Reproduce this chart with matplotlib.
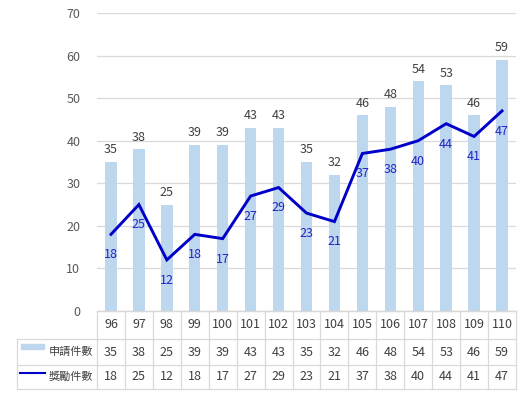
import matplotlib
matplotlib.use("Agg")
import matplotlib.pyplot as plt
import matplotlib.transforms as mtransforms
from matplotlib.lines import Line2D
from matplotlib.patches import Rectangle

plt.rcParams['font.family'] = ['Noto Sans CJK TC', 'DejaVu Sans']

years = ['96', '97', '98', '99', '100', '101', '102', '103', '104', '105', '106', '107', '108', '109', '110']
applications = [35, 38, 25, 39, 39, 43, 43, 35, 32, 46, 48, 54, 53, 46, 59]
awards = [18, 25, 12, 18, 17, 27, 29, 23, 21, 37, 38, 40, 44, 41, 47]
series_names = ['申請件數', '獎勵件數']

bar_color = '#BDD7EE'
line_color = '#0000C8'
label_blue = '#2424C8'
text_gray = '#404040'
tick_gray = '#595959'
grid_gray = '#D9D9D9'

W, H = 529, 394
fig = plt.figure(figsize=(W / 100, H / 100), dpi=100)
ax = fig.add_axes([97 / W, 1 - 311 / H, (516 - 97) / W, (311 - 13) / H])

x = list(range(len(years)))
ax.bar(x, applications, width=0.41, color=bar_color, zorder=2)
ax.plot(x, awards, color=line_color, lw=2.1, zorder=3, solid_joinstyle='miter')

for xi, v in zip(x, applications):
    ax.annotate(str(v), (xi, v), xytext=(0, 4), textcoords='offset points',
                ha='center', va='bottom', fontsize=9, color=text_gray)
for xi, v in zip(x, awards):
    ax.annotate(str(v), (xi, v), xytext=(0, -10), textcoords='offset points',
                ha='center', va='top', fontsize=9, color=label_blue)

ax.set_xlim(-0.5, len(years) - 0.5)
ax.set_ylim(0, 70)
ax.set_yticks(range(0, 71, 10))
ax.yaxis.grid(True, color=grid_gray, lw=0.9, zorder=0)
ax.set_axisbelow(True)
ax.tick_params(axis='y', length=0, pad=12, labelsize=9, labelcolor=tick_gray)
ax.tick_params(axis='x', length=0, labelbottom=False)
for s in ['top', 'right', 'left']:
    ax.spines[s].set_visible(False)
ax.spines['bottom'].set_color(grid_gray)
ax.spines['bottom'].set_linewidth(0.9)

def fy(py):
    return 1 - py / H

trans = mtransforms.blended_transform_factory(ax.transData, fig.transFigure)
row_lines = [311, 339, 365, 389]
left_px = 17 / W
ax_left = 97 / W
ax_right = 516 / W

fig.add_artist(Line2D([ax_left, ax_right], [fy(311), fy(311)], transform=fig.transFigure, color=grid_gray, lw=0.9))
for py in row_lines[1:]:
    fig.add_artist(Line2D([left_px, ax_right], [fy(py), fy(py)], transform=fig.transFigure, color=grid_gray, lw=0.9))
for b in range(len(years) + 1):
    bx = b - 0.5
    fig.add_artist(Line2D([bx, bx], [fy(311), fy(389)], transform=trans, color=grid_gray, lw=0.9))
fig.add_artist(Line2D([left_px, left_px], [fy(339), fy(389)], transform=fig.transFigure, color=grid_gray, lw=0.9))

row_centers = [(311 + 339) / 2, (339 + 365) / 2, (365 + 389) / 2]
for xi, yr, a, w in zip(x, years, applications, awards):
    fig.text(xi, fy(row_centers[0]), yr, transform=trans, ha='center', va='center', fontsize=9, color=text_gray)
    fig.text(xi, fy(row_centers[1]), str(a), transform=trans, ha='center', va='center', fontsize=9, color=text_gray)
    fig.text(xi, fy(row_centers[2]), str(w), transform=trans, ha='center', va='center', fontsize=9, color=text_gray)

fig.add_artist(Rectangle((21 / W, fy(349)), 23 / W, 5 / H, transform=fig.transFigure, color=bar_color))
fig.text(93 / W, fy(row_centers[1]), series_names[0], ha='right', va='center', fontsize=8, color=text_gray)
fig.add_artist(Line2D([20 / W, 45 / W], [fy(373), fy(373)], transform=fig.transFigure, color=line_color, lw=1.5))
fig.text(93 / W, fy(row_centers[2]), series_names[1], ha='right', va='center', fontsize=8, color=text_gray)

fig.savefig('out.png', dpi=100)
